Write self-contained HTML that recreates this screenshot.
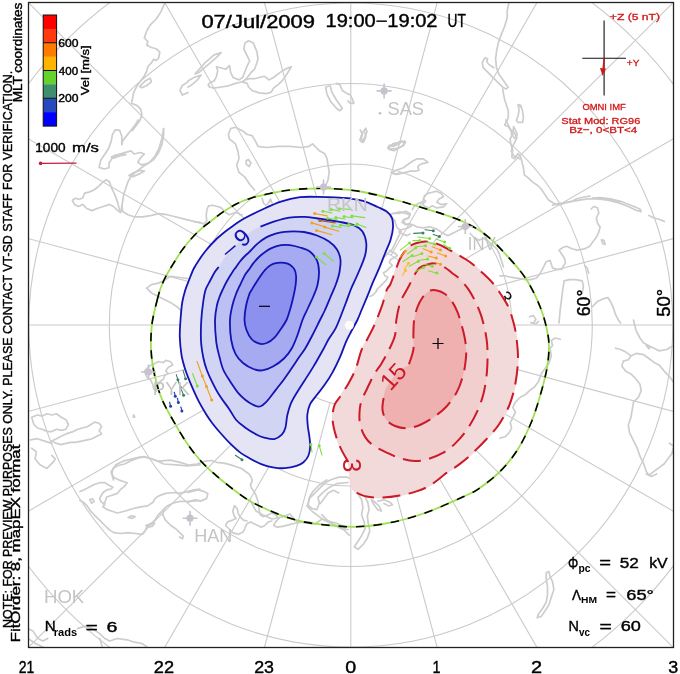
<!DOCTYPE html>
<html><head><meta charset="utf-8"><title>SuperDARN convection map</title>
<style>html,body{margin:0;padding:0;background:#fff;width:680px;height:674px;overflow:hidden}svg{display:block}</style>
</head><body>
<svg width="680" height="674" viewBox="0 0 680 674">
<defs><clipPath id="fr"><rect x="28.5" y="2.5" width="645.0" height="645.0"/></clipPath></defs>
<rect width="680" height="674" fill="#fff"/>
<g clip-path="url(#fr)" fill="none" stroke="#cacaca" stroke-width="1.1">
<circle cx="350.8" cy="325.0" r="80.5"/>
<circle cx="350.8" cy="325.0" r="161.0"/>
<circle cx="350.8" cy="325.0" r="241.5"/>
<circle cx="350.8" cy="325.0" r="322.0"/>
<circle cx="350.8" cy="325.0" r="402.5"/>
<line x1="350.8" y1="405.5" x2="350.8" y2="925.0"/>
<line x1="371.6" y1="402.8" x2="506.1" y2="904.6"/>
<line x1="391.1" y1="394.7" x2="650.8" y2="844.6"/>
<line x1="407.7" y1="381.9" x2="775.1" y2="749.3"/>
<line x1="420.5" y1="365.2" x2="870.4" y2="625.0"/>
<line x1="428.6" y1="345.8" x2="930.4" y2="480.3"/>
<line x1="431.3" y1="325.0" x2="950.8" y2="325.0"/>
<line x1="428.6" y1="304.2" x2="930.4" y2="169.7"/>
<line x1="420.5" y1="284.8" x2="870.4" y2="25.0"/>
<line x1="407.7" y1="268.1" x2="775.1" y2="-99.3"/>
<line x1="391.1" y1="255.3" x2="650.8" y2="-194.6"/>
<line x1="371.6" y1="247.2" x2="506.1" y2="-254.6"/>
<line x1="350.8" y1="244.5" x2="350.8" y2="-275.0"/>
<line x1="330.0" y1="247.2" x2="195.5" y2="-254.6"/>
<line x1="310.6" y1="255.3" x2="50.8" y2="-194.6"/>
<line x1="293.9" y1="268.1" x2="-73.5" y2="-99.3"/>
<line x1="281.1" y1="284.7" x2="-168.8" y2="25.0"/>
<line x1="273.0" y1="304.2" x2="-228.8" y2="169.7"/>
<line x1="270.3" y1="325.0" x2="-249.2" y2="325.0"/>
<line x1="273.0" y1="345.8" x2="-228.8" y2="480.3"/>
<line x1="281.1" y1="365.2" x2="-168.8" y2="625.0"/>
<line x1="293.9" y1="381.9" x2="-73.5" y2="749.3"/>
<line x1="310.5" y1="394.7" x2="50.8" y2="844.6"/>
<line x1="330.0" y1="402.8" x2="195.5" y2="904.6"/>
</g>
<g clip-path="url(#fr)" fill="none" stroke="#cdcdcd" stroke-width="1.7" stroke-linejoin="round" stroke-linecap="round">
<path d="M164.5,3.6 L160.9,11.9 L156.2,19.0 L150.3,24.9 L146.7,30.9 L144.3,38.0 L147.9,41.5 L146.7,45.1 L151.4,47.5 L156.2,48.7 L159.8,52.2 L158.6,58.2 L156.2,60.5 L153.8,59.3 L151.4,62.9 L147.9,66.5 L146.7,71.2 L144.3,76.0 L140.8,80.7 L137.2,85.5 L133.6,92.6 L132.5,98.5 L131.3,103.3 L137.2,105.6 L140.8,109.2 L141.9,115.1 L139.6,121.1 L136.0,125.8 L132.5,130.6"/>
<path d="M139.6,86.6 L145.5,80.7 L150.3,78.3 L151.4,81.9 L146.7,85.5 L141.9,87.8 L139.6,86.6"/>
<path d="M188.0,81.9 L182.3,85.5 L179.9,90.2 L182.3,95.0 L188.0,92.6"/>
<path d="M188.0,81.0 L193.9,77.5 L201.1,75.1 L197.5,79.9 L190.4,85.8 L188.0,87.0"/>
<path d="M195.1,73.9 L204.6,63.2 L214.1,54.9 L221.2,52.6 L216.5,57.3 L207.0,65.6 L198.7,72.7 L195.1,73.9"/>
<path d="M208.2,84.6 L210.6,82.2 L214.1,81.0 L216.5,76.3 L217.7,70.4 L216.5,66.8 L221.2,68.0 L226.0,69.2 L229.5,65.6 L230.7,72.7 L233.1,77.5 L239.0,79.9 L242.6,77.5 L245.0,71.5 L247.3,65.6 L249.7,60.9 L247.3,56.1 L243.8,49.0 L245.0,43.1 L248.5,40.7 L253.3,43.1 L256.8,51.4 L258.0,58.5 L256.8,63.2 L254.5,69.2 L250.9,72.7 L247.3,77.5 L243.8,81.0 L240.2,82.2 L235.5,83.4 L228.4,85.8 L221.2,87.0 L214.1,88.2 L209.4,87.0 L208.2,84.6"/>
<path d="M242.6,82.2 L247.3,83.4 L248.5,87.0 L252.1,90.5 L259.2,92.9 L266.3,93.6 L271.1,92.2 L273.5,88.2 L278.2,84.6 L283.0,79.9 L287.7,72.7 L291.3,66.8 L287.7,68.0 L283.0,70.4 L278.2,73.9 L273.5,77.5 L268.7,79.9 L266.3,77.5 L264.0,76.3 L259.2,77.5 L254.5,78.7 L249.7,78.7 L245.0,79.9 L242.6,82.2"/>
<path d="M325.7,87.0 L330.4,85.8 L331.6,91.7 L336.4,100.0 L342.3,108.3 L339.9,110.7 L336.4,108.3 L330.4,101.2 L326.9,94.1 L325.7,87.0"/>
<path d="M336.4,83.4 L339.9,84.6 L342.3,90.5 L348.0,94.1"/>
<path d="M254.5,190.0 L249.7,184.3 L245.0,177.2 L239.0,172.4 L236.7,165.3 L239.0,158.2 L237.9,151.1 L235.5,143.9 L229.5,139.2 L228.4,134.5 L230.7,128.5 L235.5,127.3 L242.6,130.9 L247.3,134.5 L252.1,135.6 L255.7,141.6 L258.0,146.3 L266.3,147.5 L278.2,146.3 L290.1,146.3 L301.9,147.5 L309.1,146.3 L312.6,143.9 L316.2,147.5 L319.8,151.1 L324.5,153.4 L326.9,158.2 L328.1,165.3 L329.2,172.4 L328.1,179.6 L325.7,185.5"/>
<path d="M246.2,160.6 L248.5,159.4 L250.9,162.9 L249.2,166.5 L246.2,164.1 L246.2,160.6"/>
<path d="M348.0,93.8 L350.4,95.0 L352.7,99.7 L353.9,103.3 L350.4,103.3 L348.0,100.9"/>
<path d="M359.9,140.1 L362.2,132.9 L365.8,128.2 L367.0,131.8 L364.6,137.7 L362.2,142.4 L359.9,140.1"/>
<path d="M388.4,147.2 L393.1,143.6 L399.0,142.4 L405.0,141.2 L402.6,146.0 L397.9,148.4 L394.3,150.7 L389.5,149.6 L388.4,147.2"/>
<path d="M146.7,288.2 L151.4,284.6 L157.4,283.4 L163.3,281.1 L170.4,276.3 L179.9,277.5 L188.0,278.7"/>
<path d="M146.7,288.2 L151.4,292.9 L160.9,297.7 L170.4,302.4 L177.6,307.2 L182.3,311.9"/>
<path d="M144.3,371.0 L149.1,366.3 L153.8,363.9 L158.6,361.5 L163.3,362.7 L165.7,360.4 L170.4,361.5 L172.8,365.1 L168.1,367.5 L165.7,371.0 L168.1,373.4 L164.5,375.8 L163.3,379.3 L159.8,381.7 L157.4,386.5 L156.2,391.2 L153.8,388.8 L152.6,384.1 L150.3,379.3 L146.7,377.0 L144.3,371.0"/>
<path d="M31.6,417.3 L37.5,415.0 L42.2,416.1 L47.0,413.8 L51.7,415.0 L56.5,413.8 L61.2,417.3 L66.0,419.7 L68.4,424.5 L66.0,429.2 L61.2,430.4 L56.5,429.2 L51.7,431.6 L47.0,431.6 L42.2,429.2 L37.5,428.0 L33.9,424.5 L31.6,417.3"/>
<path d="M51.7,441.1 L56.5,438.7 L61.2,436.3 L66.0,433.9 L73.1,431.6 L77.9,429.2 L82.6,428.0 L87.3,426.8 L90.9,424.5 L94.5,422.1 L99.2,423.3 L101.6,426.8 L99.2,430.4 L101.6,433.9 L96.8,436.3 L92.1,438.7 L87.3,439.9 L81.4,441.1 L75.5,442.3 L70.7,442.3 L66.0,443.4 L61.2,444.6 L56.5,443.4 L51.7,441.1"/>
<path d="M30.4,439.9 L37.5,438.7 L44.6,441.1 L51.7,443.4"/>
<path d="M31.6,448.2 L36.3,451.8 L35.1,458.9 L39.9,464.8 L47.0,468.4 L52.9,462.4 L55.3,458.9 L51.7,455.3"/>
<path d="M113.5,480.0 L111.1,471.9 L115.8,464.8 L123.0,461.2 L132.5,458.9 L139.6,457.2 L144.3,456.5 L151.4,458.9 L158.6,461.2 L170.4,460.1 L179.9,462.4 L188.0,464.8"/>
<path d="M133.6,415.0 L134.8,416.9 L133.2,417.3 L133.6,415.0"/>
<path d="M28.0,628.6 L33.0,631.1 L37.9,638.5 L42.9,641.0 L47.8,638.5"/>
<path d="M77.5,628.6 L85.0,626.1 L92.4,628.6 L99.8,633.6 L104.8,638.5 L109.7,641.0 L117.2,638.5 L127.1,639.8 L134.5,642.2 L141.9,643.5 L146.9,646.9"/>
<path d="M28.0,638.5 L35.4,643.5 L42.9,646.9"/>
<path d="M99.8,638.5 L102.3,646.9"/>
<path d="M188.0,492.4 L193.0,491.1 L197.9,489.9 L202.9,491.1 L207.8,493.6 L206.6,498.6 L200.4,501.1 L195.4,499.8 L190.5,501.1 L188.0,502.3"/>
<path d="M326.7,480.0 L319.3,485.0 L313.1,491.1 L309.4,497.3 L308.1,504.8 L311.8,508.5 L316.8,509.7 L319.3,503.5 L318.0,497.3 L323.0,492.4 L329.2,487.4 L336.6,483.7 L348.0,482.5"/>
<path d="M321.7,514.7 L326.7,519.6 L334.1,524.6 L341.6,528.3 L348.0,529.5"/>
<path d="M357.9,493.6 L361.6,499.8 L362.9,507.2 L361.6,514.7 L364.1,522.1 L365.3,528.3 L361.6,535.7 L356.7,543.2 L354.2,546.9 L357.9,549.3 L362.9,544.9 L367.3,538.2 L369.8,530.8 L368.3,523.3 L367.3,515.9 L369.1,509.7 L367.8,502.3 L365.3,497.3"/>
<path d="M371.5,499.8 L374.0,504.8 L377.7,509.7 L381.4,511.0 L379.0,506.0 L375.2,502.3 L371.5,499.8"/>
<path d="M377.7,501.1 L383.9,499.8 L390.1,502.3 L392.6,504.8 L388.9,506.0 L383.9,503.5"/>
<path d="M560.3,339.3 L555.2,338.0 L551.3,340.5 L552.6,345.7 L550.1,348.2 L551.3,355.9 L548.8,363.6 L544.9,368.8 L541.1,373.9 L538.5,381.6 L534.7,386.7 L529.5,390.6 L525.7,394.4 L520.5,397.0 L515.4,402.1 L512.8,407.3 L515.4,412.4 L512.8,417.5 L510.3,422.7 L511.6,427.8 L509.0,432.9 L505.1,436.8 L500.0,438.1"/>
<path d="M615.5,348.2 L620.6,349.5 L625.8,352.1 L630.9,355.9 L628.3,359.8 L623.2,361.1 L621.9,366.2 L625.8,371.3 L630.9,373.9 L636.0,379.0 L639.9,384.2 L641.2,390.6 L638.6,397.0 L633.5,402.1 L632.2,409.8 L630.9,417.5 L628.3,425.2 L629.6,432.9 L633.5,440.6 L637.3,448.3 L639.9,456.0 L643.7,463.7 L646.3,471.4 L648.9,475.3 L654.0,471.4 L659.1,467.6 L664.3,463.7 L668.1,458.6 L672.0,453.5 L673.0,448.3"/>
<path d="M630.9,355.9 L636.0,353.4 L643.7,354.7 L648.9,358.5 L654.0,362.4 L659.1,364.9 L664.3,371.3 L669.4,376.5 L673.0,381.6"/>
<path d="M633.5,320.0 L636.0,330.3 L639.9,338.0 L643.7,343.1 L648.9,345.7 L654.0,348.2 L659.1,350.8 L666.8,349.5 L673.0,345.7"/>
<path d="M646.3,345.7 L650.2,347.0 L648.9,348.7 L646.3,345.7"/>
<path d="M530.8,322.6 L535.9,323.9 L538.5,321.3"/>
<path d="M669.4,443.2 L673.0,445.8"/>
<path d="M546.2,572.8 L548.8,571.5 L550.1,576.7 L552.6,581.8 L553.9,589.5 L551.3,597.2 L548.8,604.9 L544.9,611.3 L541.1,616.5 L537.2,617.7 L538.5,613.9 L542.4,608.8 L546.2,602.3 L547.5,594.6 L547.5,586.9 L546.2,579.2 L546.2,572.8"/>
<path d="M646.3,474.0 L651.4,476.6 L656.6,474.0"/>
<path d="M552.6,205.2 L557.8,203.9 L564.2,202.6 L571.9,201.3 L579.6,200.1 L587.3,198.8 L597.5,198.8 L607.8,200.1 L618.1,202.6 L628.3,206.5 L636.0,210.3 L641.2,211.6 L639.9,209.0 L630.9,205.2 L620.6,201.3 L610.4,198.8 L600.1,197.5 L592.4,198.0"/>
<path d="M591.1,209.0 L593.7,206.5 L597.5,207.8 L598.8,212.9 L596.3,218.0 L597.5,223.2 L600.1,227.0 L598.8,232.1 L596.3,237.3 L592.4,242.4 L589.8,246.3 L584.7,248.8 L577.0,250.1 L571.9,248.8 L566.7,246.3 L562.9,247.5 L559.0,250.1 L561.6,254.0 L564.2,257.8 L565.5,262.9 L562.9,266.8 L561.6,269.4 L557.8,269.4 L552.6,268.1 L551.3,264.2 L550.1,260.4 L546.2,261.7 L543.6,266.8 L541.1,271.9 L538.5,275.8 L535.9,278.3 L530.8,279.6 L525.7,279.6 L518.0,278.3 L510.3,277.1 L505.1,275.8 L500.0,275.8"/>
<path d="M601.4,239.8 L604.0,240.4 L605.2,244.5 L602.7,243.7 L601.4,239.8"/>
<path d="M648.9,215.5 L654.0,218.0 L659.1,219.3 L664.3,221.4"/>
<path d="M559.0,323.0 L560.3,309.1 L561.6,298.9 L562.9,288.6 L564.2,280.9 L569.3,279.6 L575.7,279.6 L582.1,280.9 L583.4,286.0 L582.1,293.7"/>
<path d="M584.7,265.5 L587.3,268.1 L588.6,273.2"/>
<path d="M592.4,306.6 L597.5,301.4 L602.7,298.9 L607.8,297.6 L610.4,301.4 L612.9,306.6 L615.5,314.3 L618.1,319.4 L620.6,323.0"/>
<path d="M529.5,316.8 L533.4,315.6 L535.9,319.4 L533.4,323.0"/>
<path d="M387.8,147.8 L392.3,145.6 L396.7,143.4 L401.2,141.1 L405.6,142.3 L403.4,145.6 L398.9,147.8 L394.5,148.9 L388.9,148.9 L387.8,147.8"/>
<path d="M392.3,172.3 L396.7,170.1 L403.4,167.8 L407.8,164.5 L412.3,161.2 L416.7,158.9 L423.4,158.9 L427.9,162.3 L423.4,163.4 L420.1,164.5 L417.8,166.7 L419.0,170.1 L415.6,171.2 L410.1,171.2 L405.6,172.3 L401.2,173.4 L396.7,174.5 L392.3,173.4"/>
<path d="M424.5,195.7 L427.9,193.4 L432.3,192.3 L436.8,191.2 L441.2,193.4 L443.4,196.8 L439.0,199.0 L436.8,202.3 L441.2,204.6 L446.8,203.5 L443.4,206.8 L436.8,207.9 L432.3,205.7 L429.0,207.9 L425.6,206.8 L422.3,204.6 L425.6,201.2 L423.4,199.0 L424.5,195.7"/>
<path d="M392.3,213.5 L398.9,213.5 L405.6,211.2 L410.1,213.5 L408.9,217.9 L403.4,220.1 L405.6,224.6 L412.3,224.6 L416.7,226.8 L423.4,227.9 L430.1,226.8 L436.8,229.1 L443.4,233.5 L447.9,235.7 L452.3,233.5 L456.8,231.3 L461.2,229.1 L463.5,224.6"/>
<path d="M392.3,213.5 L390.0,215.7 L394.5,220.1 L396.7,226.8 L401.2,231.3 L398.9,235.7 L396.7,240.2 L394.5,244.6 L392.3,249.1 L387.8,253.5 L383.4,258.0"/>
<path d="M505.8,120.0 L508.0,124.5 L510.2,128.9 L514.7,133.4 L516.9,137.8 L514.7,142.3 L512.4,146.7 L511.3,151.2 L513.5,155.6 L518.0,157.8 L520.0,158.9"/>
<path d="M470.1,233.5 L474.6,238.0 L479.1,240.2 L483.5,238.0 L488.0,241.3 L492.4,244.6 L496.9,249.1 L499.1,253.5 L501.3,260.2 L503.5,266.9"/>
<path d="M360.3,130.0 L362.5,134.4 L361.4,138.8 L363.6,142.1 L365.8,136.6 L364.7,132.2"/>
<path d="M389.0,145.4 L393.4,146.5 L400.0,143.2"/>
<path d="M391.2,171.9 L395.6,174.1 L400.0,173.0"/>
<path d="M307.1,506.2 L309.7,498.2 L315.0,492.9 L320.3,487.6 L325.6,482.4 L330.9,479.7 L338.8,477.1 L346.8,477.1 L352.1,479.7"/>
<path d="M307.1,506.2 L312.4,511.5 L317.6,515.4 L322.9,519.4 L328.2,522.1 L333.5,524.7 L338.8,527.4 L344.1,530.0 L349.4,535.3"/>
<path d="M320.3,503.5 L324.3,498.2 L328.2,492.9 L333.5,490.3 L338.8,492.9"/>
<path d="M393.7,213.4 L399.7,211.9 L405.6,213.4 L410.1,214.8 L408.6,217.8 L404.1,219.3 L401.9,222.3 L405.6,224.5 L410.1,223.7 L411.5,226.0 L407.1,228.2 L401.2,229.7 L398.9,231.9 L402.6,234.1 L407.1,235.6 L410.1,234.1"/>
<path d="M389.3,250.4 L392.3,251.9 L395.2,253.4 L397.4,255.6 L393.7,257.9 L390.8,259.3 L389.3,262.3 L392.3,265.3 L389.3,268.2 L386.3,271.2 L383.4,272.7 L384.8,275.7 L387.8,277.2 L386.3,280.1 L383.4,283.1 L380.4,286.1 L377.4,289.0 L375.9,292.0 L373.0,295.0 L370.0,296.4"/>
<path d="M412.3,209.6 L414.5,205.9 L419.0,203.0 L423.4,201.5"/>
<path d="M509.0,2.7 L507.2,10.7 L507.2,17.8 L504.5,26.7 L500.9,35.6 L498.3,42.7 L496.5,51.6 L495.6,58.8 L496.5,67.7 L499.2,74.8 L501.8,78.3 L504.5,81.9 L508.1,87.2 L506.3,89.0 L502.7,87.2 L497.4,81.9 L492.0,76.6 L486.7,71.2 L483.1,67.7 L482.3,62.3 L484.9,57.9 L487.6,58.8 L486.7,61.4 L488.5,64.1 L493.8,67.7"/>
<path d="M502.7,89.0 L503.6,94.4 L504.7,100.0 L506.5,105.3 L508.3,110.7 L508.3,117.8 L505.6,123.1 L504.7,124.9 L508.3,126.7 L510.9,130.3 L511.8,135.6 L510.1,139.2 L510.9,144.5 L512.7,149.8 L511.8,157.0 L514.5,158.8 L518.1,153.4 L520.7,157.0 L521.6,160.5 L523.4,167.7 L524.3,174.8 L528.8,178.3 L532.3,181.9 L537.7,185.5 L541.2,189.0 L544.8,194.4 L548.3,199.7 L553.7,203.3 L559.0,205.0 L564.4,203.3 L571.5,201.5 L576.8,198.8 L583.9,197.0 L590.0,196.1"/>
<path d="M518.1,104.5 L520.7,105.3 L522.5,110.7 L523.4,117.8 L522.5,122.3 L518.1,122.3 L516.3,120.5 L518.1,116.0 L519.0,110.7 L518.1,104.5"/>
<path d="M513.6,126.7 L515.4,130.3 L517.2,133.8 L516.3,137.4 L514.5,138.3 L512.7,135.6 L513.6,126.7"/>
<path d="M518.7,105.0 L520.5,106.8"/>
<path d="M200.0,464.9 L186.8,465.8 L176.1,464.9 L163.7,464.0 L158.3,461.4 L151.2,458.7 L144.1,456.9 L138.8,457.8 L131.6,460.5 L124.5,464.0 L117.4,465.8 L112.9,468.5 L112.0,473.8 L113.8,477.4 L119.2,480.1 L127.2,482.7 L124.5,486.3 L120.1,489.9 L117.4,493.4 L112.0,495.2 L106.7,497.0 L104.9,502.3 L103.1,506.8 L106.7,509.4 L112.0,511.2 L117.4,513.0 L124.5,511.2 L133.4,508.5 L140.5,506.8 L147.7,505.9 L153.0,502.3 L154.8,498.8 L158.3,496.1 L165.5,493.4 L174.4,492.5 L179.7,493.4 L186.8,491.6 L193.9,489.9 L200.0,489.0"/>
<path d="M200.0,500.5 L190.4,501.4 L179.7,501.4 L172.6,503.2 L167.2,505.9 L163.7,509.4 L162.8,514.8 L165.5,520.1 L170.8,525.5 L176.1,529.0 L179.7,532.6 L183.3,536.1 L182.4,538.8 L179.7,537.0"/>
<path d="M163.7,509.4 L158.3,514.8 L154.8,520.1 L151.2,523.7 L147.7,525.5 L145.9,529.0 L144.1,532.6 L142.3,534.4 L135.2,533.5 L128.1,532.6 L120.9,533.5 L113.8,532.6 L109.4,529.9 L104.9,525.5 L99.6,520.1 L94.2,514.8 L90.7,511.2 L87.1,505.9 L83.6,502.3 L80.0,500.5"/>
<path d="M80.0,491.6 L83.6,489.9 L88.9,487.2 L94.2,484.5 L99.6,482.7 L104.9,482.7 L109.4,485.4 L112.9,487.2 L111.2,489.0 L106.7,489.9 L103.1,492.5 L101.4,495.2 L99.6,498.8 L101.4,502.3 L104.9,504.1 L103.1,506.8"/>
<path d="M128.1,517.4 L131.6,515.7 L135.2,516.6 L132.5,518.3 L128.1,517.4"/>
<path d="M89.8,499.6 L92.5,498.8 L94.2,501.4 L91.6,503.2 L89.8,499.6"/>
<path d="M145.9,525.5 L150.3,523.7 L154.8,523.3 L152.1,526.4 L147.7,527.2"/>
<path d="M190.0,464.9 L197.1,464.0 L204.2,461.4 L211.4,460.5 L216.7,462.3 L223.8,463.1 L230.9,464.9 L236.3,466.7 L241.6,468.5 L245.2,471.2 L248.8,473.8 L251.4,477.4 L252.3,480.9 L250.5,484.5 L251.4,488.1 L254.1,491.6 L255.9,495.2 L257.7,500.5 L258.5,505.9 L259.4,511.2 L260.3,514.8 L263.0,516.6 L268.3,514.8 L271.9,513.0 L275.5,514.8 L279.0,518.3 L275.5,521.9 L273.7,525.5 L277.2,527.2 L282.6,526.3 L289.7,524.6 L296.8,522.8 L303.9,521.9 L310.0,521.9"/>
<path d="M234.5,505.9 L232.7,511.2 L234.5,516.6 L236.3,518.3 L232.7,520.1 L227.4,521.9 L225.6,525.5 L229.2,529.0 L232.7,532.6 L238.1,534.4 L243.4,531.7 L245.2,527.2 L247.0,523.7 L250.5,521.9 L254.1,523.7 L257.7,525.5 L261.2,527.2 L264.8,525.5 L268.3,521.9 L271.9,521.0"/>
<path d="M234.5,505.9 L237.2,508.5 L238.1,513.0 L239.8,516.6 L243.4,520.1 L247.0,521.0"/>
<path d="M138.2,120.0 L135.1,125.1 L131.0,130.3 L126.9,135.4 L122.8,140.6 L121.8,144.7 L121.8,136.5 L119.7,130.3 L115.2,129.9 L112.5,134.4 L111.1,141.6 L108.4,148.8 L104.3,155.0 L100.8,160.1 L99.1,167.4 L104.3,169.0 L109.0,167.8 L109.0,163.2 L111.5,159.1 L116.6,155.4 L123.8,152.9 L131.0,150.9 L134.1,154.0 L140.3,152.5 L144.4,154.0 L140.3,158.1 L137.8,162.2 L141.3,164.9 L147.5,163.6 L153.7,159.5 L158.4,152.9 L161.9,144.7 L163.6,135.4 L163.6,128.6"/>
<path d="M163.6,128.6 L161.9,138.5 L159.2,147.8 L155.1,156.0 L149.6,162.2 L143.4,166.3 L139.3,169.4 L135.1,172.5 L131.0,176.6 L127.9,181.8 L125.9,187.9 L123.8,194.1 L122.8,200.3 L121.8,206.5 L122.8,211.6 L127.9,214.7 L134.1,216.8 L142.4,216.8 L150.6,215.7 L158.8,213.7 L167.1,214.7 L175.3,216.8 L183.5,218.8 L191.8,220.9 L200.0,222.9"/>
<path d="M109.4,181.8 L106.3,179.7 L103.2,181.8 L99.1,185.9 L94.0,190.0 L88.8,192.1 L84.7,193.1 L82.6,198.2 L78.5,199.3 L75.4,198.2 L72.4,200.3 L74.4,204.4 L78.5,206.5 L82.6,204.4 L86.8,208.5 L91.9,210.6 L97.1,208.5 L103.2,206.5 L109.4,204.4 L113.5,206.5 L117.6,210.6 L120.7,212.6 L121.8,206.5"/>
<path d="M109.4,181.8 L111.5,187.9 L114.6,194.1 L117.6,202.4 L119.7,210.6"/>
<path d="M111.5,157.1 L115.6,155.0 L121.8,154.0 L125.9,154.6 L119.7,156.0 L113.5,158.1 L111.5,157.1"/>
<path d="M129.0,175.6 L134.1,172.5 L140.3,170.4 L144.4,171.1 L139.3,173.9 L133.1,176.6 L129.0,175.6"/>
<path d="M195.0,221.8 L199.7,222.4 L204.4,224.1 L206.8,220.6 L206.2,215.9 L206.8,210.0 L208.5,205.9 L212.6,205.3 L217.4,206.5 L220.9,207.6 L223.2,210.0 L225.6,212.4 L229.1,214.7 L232.6,213.5 L236.2,212.4 L238.5,213.5 L240.9,215.3 L242.1,214.7"/>
<path d="M262.0,198.0 L263.5,203.0 L266.0,205.5 L268.5,203.0 L270.5,199.0 L272.5,204.0"/>
<path d="M250.0,500.0 L256.0,511.0 L263.0,515.0 L272.0,519.0 L282.0,517.0 L290.0,514.0 L296.0,521.0 L305.0,523.0 L315.0,524.0 L322.0,519.0 L328.0,521.0 L336.0,523.0 L345.0,527.0"/>
</g>
<text x="0" y="0" font-family="Liberation Sans, sans-serif" font-size="19" fill="#111" transform="translate(505,297) rotate(62)" text-anchor="middle" dominant-baseline="central">3</text>
<path d="M420.8,241.9C423.8,241.4 426.7,241.5 429.7,241.9C432.7,242.3 435.6,243.2 438.6,244.4C441.6,245.6 444.5,247.3 447.5,248.9C450.5,250.5 452.7,251.6 456.4,253.8C460.1,256.0 465.5,258.9 469.8,262.0C474.1,265.1 478.4,269.1 482.3,272.7C486.2,276.3 489.7,279.5 493.0,283.4C496.3,287.3 499.2,291.8 501.9,295.9C504.6,300.0 507.1,303.9 509.0,308.3C510.9,312.8 512.2,317.7 513.5,322.6C514.8,327.6 515.8,331.8 516.5,338.0C517.2,344.2 518.2,352.1 518.0,360.0C517.8,367.9 516.5,377.9 515.0,385.7C513.5,393.4 511.6,399.9 508.8,406.5C506.0,413.1 502.2,419.7 498.4,425.2C494.6,430.7 490.4,434.9 485.9,439.7C481.4,444.5 475.9,450.0 471.4,454.2C466.9,458.4 463.0,461.5 458.9,464.6C454.8,467.7 450.1,470.2 446.5,472.9C442.9,475.5 439.9,478.3 437.0,480.5C434.1,482.7 432.2,484.4 428.8,486.2C425.4,488.0 421.2,489.8 416.3,491.4C411.4,493.0 405.2,494.6 399.7,495.6C394.2,496.6 388.6,497.4 383.1,497.6C377.6,497.8 371.0,497.5 366.5,496.6C362.0,495.8 358.6,494.4 356.0,492.5C353.4,490.6 352.0,488.1 351.0,485.0C350.0,481.9 350.2,477.8 349.8,474.0C349.4,470.2 349.7,466.0 348.3,462.0C346.9,458.0 343.5,454.0 341.5,449.9C339.5,445.8 337.9,442.2 336.4,437.4C334.9,432.5 333.1,426.0 332.7,420.8C332.3,415.6 332.9,410.1 334.2,406.0C335.4,401.9 337.8,400.3 340.2,396.5C342.6,392.7 345.9,387.9 348.5,383.4C351.1,378.8 353.4,374.7 355.6,369.2C357.8,363.7 359.5,355.2 361.5,350.2C363.5,345.2 365.2,343.4 367.4,339.0C369.6,334.6 372.3,329.8 374.8,324.1C377.3,318.4 380.3,310.5 382.3,304.8C384.3,299.1 385.4,293.4 386.7,290.0C388.0,286.6 389.0,287.1 390.4,284.2C391.8,281.2 393.4,276.3 394.9,272.3C396.4,268.3 397.7,263.9 399.3,260.4C400.9,256.9 402.4,254.1 404.5,251.5C406.6,248.9 409.2,246.5 411.9,244.9C414.6,243.3 417.8,242.4 420.8,241.9Z" fill="#f3dada" stroke="#f3dada" stroke-width="1.5"/>
<path d="M419.3,267.9C421.7,265.8 424.7,265.1 427.5,264.4C430.3,263.7 433.1,263.0 436.0,263.5C438.9,264.0 442.3,265.9 445.0,267.5C447.7,269.1 449.6,271.2 452.0,273.0C454.4,274.8 456.5,275.9 459.2,278.5C461.9,281.1 465.4,285.0 468.1,288.8C470.8,292.6 473.1,297.1 475.2,301.2C477.3,305.3 479.0,309.5 480.5,313.7C482.0,317.9 483.1,322.0 484.1,326.1C485.1,330.2 485.9,334.6 486.5,338.6C487.1,342.7 487.4,345.0 487.5,350.4C487.6,355.8 487.6,364.3 487.0,371.2C486.4,378.1 485.5,385.3 483.9,391.9C482.3,398.5 480.4,404.4 477.6,410.6C474.8,416.8 471.0,423.8 467.2,429.3C463.4,434.9 458.9,439.9 454.8,443.9C450.7,447.9 446.7,450.7 442.3,453.2C437.9,455.7 432.9,457.7 428.3,459.0C423.8,460.3 419.7,461.1 415.0,461.0C410.3,460.9 405.0,459.7 400.3,458.3C395.6,456.9 391.1,454.7 386.7,452.6C382.3,450.6 377.6,448.5 374.0,446.0C370.4,443.5 367.7,440.9 365.4,437.4C363.1,433.9 361.2,429.0 360.2,424.9C359.2,420.8 359.3,416.5 359.5,412.5C359.7,408.5 360.1,405.1 361.4,401.0C362.7,396.9 365.2,392.6 367.4,388.0C369.6,383.4 372.3,377.5 374.6,373.5C376.9,369.5 378.9,367.9 381.2,364.0C383.5,360.1 386.4,355.1 388.7,350.4C391.0,345.7 393.6,340.9 394.9,335.8C396.2,330.7 395.5,325.2 396.4,319.7C397.2,314.2 398.6,307.4 400.0,303.0C401.4,298.6 403.5,295.9 405.0,293.0C406.5,290.1 407.6,288.4 409.0,285.7C410.4,283.0 411.7,279.8 413.4,276.8C415.1,273.8 416.9,270.0 419.3,267.9Z" fill="#f2cfcf"/>
<path d="M429.0,291.0C431.4,289.8 434.3,290.0 437.0,290.5C439.7,291.0 442.5,292.2 445.0,294.0C447.5,295.8 449.9,298.5 452.0,301.5C454.1,304.5 455.9,308.4 457.4,311.9C458.9,315.4 459.7,318.5 460.9,322.6C462.1,326.8 463.6,332.2 464.5,336.8C465.4,341.4 466.0,345.8 466.2,350.0C466.4,354.2 466.0,357.8 465.5,362.0C465.0,366.2 464.5,370.3 463.1,375.3C461.7,380.3 459.7,386.7 456.9,391.9C454.1,397.1 450.3,402.3 446.5,406.5C442.7,410.7 438.2,413.9 434.0,416.9C429.8,419.9 425.4,422.6 421.0,424.5C416.6,426.4 411.8,427.9 407.5,428.2C403.2,428.4 398.6,427.4 395.0,426.0C391.4,424.6 388.1,422.2 386.0,419.5C383.9,416.8 383.0,413.1 382.5,410.0C382.0,406.9 382.7,404.3 383.1,401.0C383.6,397.7 383.9,393.3 385.2,390.0C386.5,386.7 389.0,383.8 391.0,381.0C393.0,378.2 395.0,375.2 397.0,373.0C399.0,370.8 401.0,369.5 403.0,368.0C405.0,366.5 407.3,367.3 409.0,364.2C410.7,361.1 412.7,354.2 413.4,349.3C414.1,344.4 413.3,339.4 413.4,334.5C413.5,329.6 413.5,324.3 414.2,319.7C414.9,315.1 416.1,310.7 417.5,307.0C418.9,303.3 420.6,300.2 422.5,297.5C424.4,294.8 426.6,292.2 429.0,291.0Z" fill="#efb0b0"/>
<path d="M180.5,320.0C180.9,314.2 181.5,307.0 182.3,302.0C183.1,297.0 184.2,293.7 185.3,290.0C186.4,286.3 187.7,283.6 189.1,280.0C190.5,276.4 192.0,272.0 193.8,268.5C195.6,265.0 197.7,262.0 199.7,259.0C201.7,256.0 203.1,253.9 205.7,250.7C208.3,247.5 212.1,243.3 215.5,240.0C218.9,236.7 222.8,233.6 226.0,231.0C229.2,228.4 232.0,226.6 235.0,224.5C238.0,222.4 239.6,221.0 244.1,218.5C248.6,216.0 255.7,212.5 261.8,209.7C267.9,206.9 274.5,203.7 280.9,201.6C287.3,199.5 293.6,198.0 300.0,197.2C306.4,196.4 313.2,196.8 319.0,196.9C324.8,197.0 329.8,197.2 335.0,197.5C340.2,197.8 345.3,197.9 350.0,198.5C354.7,199.1 358.5,199.4 363.1,200.8C367.7,202.2 373.7,205.2 377.6,207.0C381.5,208.8 384.3,209.7 386.7,211.5C389.1,213.3 390.8,215.1 391.9,217.8C392.9,220.5 393.2,224.1 393.0,227.8C392.8,231.5 391.8,235.8 390.5,240.0C389.2,244.2 387.1,248.3 385.2,253.0C383.3,257.6 381.3,263.2 379.3,267.9C377.3,272.6 375.4,276.5 373.4,281.2C371.4,285.9 369.3,291.5 367.4,296.1C365.5,300.7 363.7,305.0 362.0,309.0C360.3,313.0 359.2,316.2 357.4,320.0C355.6,323.8 353.1,327.9 351.2,331.5C349.3,335.1 347.9,337.6 346.0,341.9C344.1,346.2 342.3,352.0 340.0,357.1C337.7,362.2 335.0,367.9 332.4,372.6C329.8,377.4 326.9,381.7 324.1,385.6C321.3,389.6 318.2,393.1 315.8,396.3C313.4,399.5 311.3,401.5 309.9,404.6C308.5,407.7 307.6,411.4 307.3,415.0C307.0,418.6 307.5,422.5 307.8,426.0C308.1,429.5 308.9,432.7 309.3,436.0C309.7,439.3 310.3,442.8 310.2,446.0C310.1,449.2 309.6,452.8 308.5,455.5C307.4,458.2 305.5,460.5 303.5,462.2C301.5,463.9 299.6,464.9 296.5,465.9C293.4,466.9 288.6,467.9 284.7,468.2C280.8,468.4 276.8,468.1 272.9,467.4C269.0,466.7 265.1,465.6 261.2,464.1C257.3,462.6 253.1,460.3 249.4,458.2C245.7,456.1 242.5,454.3 239.1,451.6C235.7,448.9 232.0,445.3 228.8,442.1C225.6,438.9 222.7,435.6 220.0,432.5C217.3,429.4 214.8,426.5 212.5,423.5C210.2,420.5 208.6,418.3 206.3,414.5C204.0,410.7 201.0,405.8 198.5,400.9C196.0,396.0 193.6,390.5 191.4,385.4C189.2,380.2 187.1,375.1 185.4,370.0C183.8,364.9 182.4,360.5 181.5,355.0C180.6,349.5 180.0,342.8 179.8,337.0C179.6,331.2 180.1,325.8 180.5,320.0Z" fill="#e4e4f4"/>
<path d="M201.3,320.0C201.7,313.5 202.5,307.0 203.2,302.0C203.9,297.0 204.4,293.5 205.5,290.0C206.6,286.5 208.5,283.9 210.0,281.0C211.5,278.1 213.1,274.8 214.5,272.5C215.9,270.2 217.1,269.3 218.7,267.0C220.3,264.7 221.9,261.2 224.0,258.5C226.1,255.8 227.9,253.8 231.0,250.5C234.1,247.2 239.2,241.7 242.5,238.5C245.8,235.3 248.0,233.5 251.0,231.5C254.0,229.5 256.6,228.4 260.5,226.7C264.4,225.0 269.7,222.9 274.5,221.4C279.3,219.9 284.4,218.3 289.3,217.6C294.2,216.8 299.5,216.8 304.2,216.9C308.9,217.1 313.0,217.9 317.5,218.5C322.0,219.1 326.8,219.8 331.0,220.5C335.2,221.2 339.0,221.6 343.0,222.5C347.0,223.4 351.6,224.2 354.8,225.7C358.1,227.2 360.6,228.7 362.5,231.5C364.4,234.3 365.7,238.7 366.2,242.5C366.7,246.3 366.2,250.5 365.3,254.5C364.4,258.5 362.6,262.6 361.0,266.5C359.4,270.4 357.7,274.2 356.0,278.0C354.3,281.8 352.7,284.9 351.0,289.0C349.3,293.1 347.7,298.1 346.0,302.5C344.3,306.9 342.7,311.2 341.0,315.5C339.3,319.8 337.7,324.3 335.6,328.4C333.5,332.4 330.4,336.2 328.3,339.8C326.2,343.4 325.4,345.5 322.9,350.0C320.4,354.5 316.4,361.7 313.4,366.6C310.4,371.6 307.9,375.4 305.1,379.7C302.3,384.0 299.2,388.8 296.8,392.7C294.4,396.6 292.5,399.6 290.9,403.4C289.3,407.2 288.2,411.3 287.3,415.3C286.4,419.3 286.4,424.2 285.5,427.4C284.6,430.6 283.7,432.8 281.8,434.7C279.9,436.6 277.3,438.6 274.4,439.1C271.4,439.6 267.0,438.3 264.1,437.6C261.2,436.9 260.0,436.4 256.8,434.7C253.6,433.0 248.4,429.8 245.0,427.4C241.6,424.9 238.8,423.0 236.2,420.0C233.6,417.0 232.0,413.2 229.3,409.2C226.6,405.2 222.7,400.5 219.9,396.1C217.1,391.8 214.9,387.5 212.7,383.1C210.5,378.8 208.4,374.2 206.8,370.0C205.2,365.8 204.4,362.9 203.4,358.0C202.4,353.1 201.3,347.1 201.0,340.8C200.7,334.5 200.9,326.5 201.3,320.0Z" fill="#d2d4f4"/>
<path d="M215.0,320.0C215.1,313.8 216.2,308.8 217.0,305.0C217.8,301.2 218.6,299.5 219.5,297.0C220.4,294.5 221.2,292.7 222.5,290.0C223.8,287.3 225.3,284.0 227.0,281.0C228.7,278.0 231.0,274.3 232.5,272.0C234.0,269.7 234.7,268.9 236.0,267.1C237.3,265.3 238.7,263.1 240.2,261.2C241.7,259.3 243.4,257.5 244.9,256.0C246.4,254.5 246.8,254.4 248.9,252.3C251.1,250.2 254.8,245.9 257.8,243.4C260.8,240.9 263.7,238.7 266.7,237.1C269.7,235.5 272.6,234.5 275.6,233.6C278.6,232.7 281.5,232.2 284.5,231.8C287.5,231.4 290.1,231.3 293.4,231.3C296.6,231.3 300.1,231.3 304.0,232.0C307.9,232.7 312.8,233.9 317.0,235.5C321.2,237.1 325.7,239.2 329.0,241.5C332.3,243.8 335.1,246.4 337.0,249.5C338.9,252.6 340.1,256.2 340.5,260.0C340.9,263.8 340.2,268.0 339.5,272.0C338.8,276.0 337.5,279.8 336.0,284.0C334.5,288.2 332.3,292.7 330.5,297.0C328.7,301.3 326.8,306.0 325.0,310.0C323.2,314.0 321.6,316.8 319.5,321.0C317.4,325.2 314.8,330.5 312.5,335.0C310.2,339.5 307.7,344.3 305.5,348.0C303.3,351.7 301.4,353.8 299.2,357.1C296.9,360.4 294.6,364.0 292.0,367.8C289.4,371.6 286.5,375.9 283.7,379.7C280.9,383.5 278.2,386.8 275.4,390.4C272.6,393.9 269.7,398.3 267.1,401.0C264.5,403.7 262.4,405.9 260.0,406.5C257.6,407.1 254.9,405.6 252.5,404.5C250.1,403.4 247.8,401.8 245.5,400.0C243.2,398.2 241.3,396.7 238.8,393.7C236.3,390.7 233.1,385.8 230.5,381.9C227.9,377.9 225.2,374.1 223.4,370.0C221.6,365.9 220.7,361.6 219.5,357.0C218.3,352.4 217.1,348.5 216.3,342.3C215.6,336.1 214.9,326.2 215.0,320.0Z" fill="#bcc0f3"/>
<path d="M230.0,320.0C230.2,314.2 231.5,309.3 232.5,305.0C233.5,300.7 234.8,297.2 236.0,294.0C237.2,290.8 238.1,289.1 239.6,286.0C241.1,282.9 243.3,278.0 244.9,275.1C246.5,272.2 247.9,271.0 249.4,268.9C250.9,266.8 252.0,264.8 253.8,262.7C255.6,260.6 257.9,257.9 260.0,256.0C262.1,254.1 264.5,252.4 266.5,251.0C268.5,249.6 269.7,248.8 272.1,247.8C274.5,246.8 278.0,245.6 281.0,245.1C284.0,244.6 286.7,244.7 289.9,245.1C293.1,245.5 296.6,246.4 300.0,247.5C303.4,248.6 307.3,249.6 310.1,251.8C312.9,254.0 315.5,257.2 317.0,260.5C318.5,263.8 318.9,267.4 319.0,271.5C319.1,275.6 318.4,280.9 317.5,285.0C316.6,289.1 315.1,292.2 313.5,296.0C311.9,299.8 309.8,304.0 308.0,308.0C306.2,312.0 304.2,315.5 302.5,320.0C300.8,324.5 299.2,330.3 297.5,335.0C295.8,339.7 294.2,344.1 292.0,348.0C289.8,351.9 287.2,355.4 284.0,358.5C280.8,361.6 276.6,364.5 273.0,366.5C269.4,368.5 265.6,370.0 262.3,370.4C259.0,370.8 256.6,370.2 253.4,369.0C250.2,367.8 246.0,365.5 243.0,363.0C240.0,360.5 237.6,357.9 235.6,354.1C233.6,350.3 232.1,345.7 231.2,340.0C230.3,334.3 229.8,325.8 230.0,320.0Z" fill="#a6aaf1"/>
<path d="M244.5,320.0C244.4,316.0 245.2,310.2 246.0,306.0C246.8,301.8 248.1,297.7 249.0,295.0C249.9,292.3 250.1,292.5 251.6,290.0C253.1,287.5 255.6,283.2 257.8,279.9C260.0,276.6 262.7,272.6 264.9,270.1C267.1,267.6 269.1,265.9 271.2,264.7C273.3,263.5 275.2,263.2 277.4,262.9C279.6,262.6 282.4,262.6 284.5,262.9C286.6,263.2 288.3,263.6 289.9,264.7C291.5,265.8 293.3,267.3 294.3,269.2C295.3,271.1 295.9,273.7 296.1,276.3C296.3,278.9 296.0,281.7 295.6,285.0C295.2,288.3 294.4,292.2 293.5,296.0C292.6,299.8 291.7,304.0 290.5,308.0C289.3,312.0 288.2,316.4 286.5,320.0C284.8,323.6 282.6,326.5 280.5,329.5C278.4,332.5 276.5,335.6 274.2,337.8C271.9,340.1 269.3,342.0 266.8,343.0C264.3,344.0 261.9,344.4 259.3,343.7C256.8,343.0 253.6,341.3 251.5,339.0C249.4,336.7 247.7,333.2 246.5,330.0C245.3,326.8 244.6,324.0 244.5,320.0Z" fill="#8c91ef"/>
<g fill="none" stroke="#1414b4" stroke-width="1.8">
<path d="M180.5,320.0C180.9,314.2 181.5,307.0 182.3,302.0C183.1,297.0 184.2,293.7 185.3,290.0C186.4,286.3 187.7,283.6 189.1,280.0C190.5,276.4 192.0,272.0 193.8,268.5C195.6,265.0 197.7,262.0 199.7,259.0C201.7,256.0 203.1,253.9 205.7,250.7C208.3,247.5 212.1,243.3 215.5,240.0C218.9,236.7 222.8,233.6 226.0,231.0C229.2,228.4 232.0,226.6 235.0,224.5C238.0,222.4 239.6,221.0 244.1,218.5C248.6,216.0 255.7,212.5 261.8,209.7C267.9,206.9 274.5,203.7 280.9,201.6C287.3,199.5 293.6,198.0 300.0,197.2C306.4,196.4 313.2,196.8 319.0,196.9C324.8,197.0 329.8,197.2 335.0,197.5C340.2,197.8 345.3,197.9 350.0,198.5C354.7,199.1 358.5,199.4 363.1,200.8C367.7,202.2 373.7,205.2 377.6,207.0C381.5,208.8 384.3,209.7 386.7,211.5C389.1,213.3 390.8,215.1 391.9,217.8C392.9,220.5 393.2,224.1 393.0,227.8C392.8,231.5 391.8,235.8 390.5,240.0C389.2,244.2 387.1,248.3 385.2,253.0C383.3,257.6 381.3,263.2 379.3,267.9C377.3,272.6 375.4,276.5 373.4,281.2C371.4,285.9 369.3,291.5 367.4,296.1C365.5,300.7 363.7,305.0 362.0,309.0C360.3,313.0 359.2,316.2 357.4,320.0C355.6,323.8 353.1,327.9 351.2,331.5C349.3,335.1 347.9,337.6 346.0,341.9C344.1,346.2 342.3,352.0 340.0,357.1C337.7,362.2 335.0,367.9 332.4,372.6C329.8,377.4 326.9,381.7 324.1,385.6C321.3,389.6 318.2,393.1 315.8,396.3C313.4,399.5 311.3,401.5 309.9,404.6C308.5,407.7 307.6,411.4 307.3,415.0C307.0,418.6 307.5,422.5 307.8,426.0C308.1,429.5 308.9,432.7 309.3,436.0C309.7,439.3 310.3,442.8 310.2,446.0C310.1,449.2 309.6,452.8 308.5,455.5C307.4,458.2 305.5,460.5 303.5,462.2C301.5,463.9 299.6,464.9 296.5,465.9C293.4,466.9 288.6,467.9 284.7,468.2C280.8,468.4 276.8,468.1 272.9,467.4C269.0,466.7 265.1,465.6 261.2,464.1C257.3,462.6 253.1,460.3 249.4,458.2C245.7,456.1 242.5,454.3 239.1,451.6C235.7,448.9 232.0,445.3 228.8,442.1C225.6,438.9 222.7,435.6 220.0,432.5C217.3,429.4 214.8,426.5 212.5,423.5C210.2,420.5 208.6,418.3 206.3,414.5C204.0,410.7 201.0,405.8 198.5,400.9C196.0,396.0 193.6,390.5 191.4,385.4C189.2,380.2 187.1,375.1 185.4,370.0C183.8,364.9 182.4,360.5 181.5,355.0C180.6,349.5 180.0,342.8 179.8,337.0C179.6,331.2 180.1,325.8 180.5,320.0Z"/>
<path d="M260.5,226.7C262.8,225.8 269.7,222.9 274.5,221.4C279.3,219.9 284.4,218.3 289.3,217.6C294.2,216.8 299.5,216.8 304.2,216.9C308.9,217.1 313.0,217.9 317.5,218.5C322.0,219.1 326.8,219.8 331.0,220.5C335.2,221.2 339.0,221.6 343.0,222.5C347.0,223.4 351.6,224.2 354.8,225.7C358.1,227.2 360.6,228.7 362.5,231.5C364.4,234.3 365.7,238.7 366.2,242.5C366.7,246.3 366.2,250.5 365.3,254.5C364.4,258.5 362.6,262.6 361.0,266.5C359.4,270.4 357.7,274.2 356.0,278.0C354.3,281.8 352.7,284.9 351.0,289.0C349.3,293.1 347.7,298.1 346.0,302.5C344.3,306.9 342.7,311.2 341.0,315.5C339.3,319.8 337.7,324.3 335.6,328.4C333.5,332.4 330.4,336.2 328.3,339.8C326.2,343.4 325.4,345.5 322.9,350.0C320.4,354.5 316.4,361.7 313.4,366.6C310.4,371.6 307.9,375.4 305.1,379.7C302.3,384.0 299.2,388.8 296.8,392.7C294.4,396.6 292.5,399.6 290.9,403.4C289.3,407.2 288.2,411.3 287.3,415.3C286.4,419.3 286.4,424.2 285.5,427.4C284.6,430.6 283.7,432.8 281.8,434.7C279.9,436.6 277.3,438.6 274.4,439.1C271.4,439.6 267.0,438.3 264.1,437.6C261.2,436.9 260.0,436.4 256.8,434.7C253.6,433.0 248.4,429.8 245.0,427.4C241.6,424.9 238.8,423.0 236.2,420.0C233.6,417.0 232.0,413.2 229.3,409.2C226.6,405.2 222.7,400.5 219.9,396.1C217.1,391.8 214.9,387.5 212.7,383.1C210.5,378.8 208.4,374.2 206.8,370.0C205.2,365.8 204.4,362.9 203.4,358.0C202.4,353.1 201.3,347.1 201.0,340.8C200.7,334.5 200.9,326.5 201.3,320.0C201.7,313.5 202.5,307.0 203.2,302.0C203.9,297.0 204.4,293.5 205.5,290.0C206.6,286.5 208.5,283.9 210.0,281.0C211.5,278.1 213.1,274.8 214.5,272.5C215.9,270.2 218.0,267.9 218.7,267.0"/>
<path d="M215.0,320.0C215.1,313.8 216.2,308.8 217.0,305.0C217.8,301.2 218.6,299.5 219.5,297.0C220.4,294.5 221.2,292.7 222.5,290.0C223.8,287.3 225.3,284.0 227.0,281.0C228.7,278.0 231.0,274.3 232.5,272.0C234.0,269.7 234.7,268.9 236.0,267.1C237.3,265.3 238.7,263.1 240.2,261.2C241.7,259.3 243.4,257.5 244.9,256.0C246.4,254.5 246.8,254.4 248.9,252.3C251.1,250.2 254.8,245.9 257.8,243.4C260.8,240.9 263.7,238.7 266.7,237.1C269.7,235.5 272.6,234.5 275.6,233.6C278.6,232.7 281.5,232.2 284.5,231.8C287.5,231.4 290.1,231.3 293.4,231.3C296.6,231.3 300.1,231.3 304.0,232.0C307.9,232.7 312.8,233.9 317.0,235.5C321.2,237.1 325.7,239.2 329.0,241.5C332.3,243.8 335.1,246.4 337.0,249.5C338.9,252.6 340.1,256.2 340.5,260.0C340.9,263.8 340.2,268.0 339.5,272.0C338.8,276.0 337.5,279.8 336.0,284.0C334.5,288.2 332.3,292.7 330.5,297.0C328.7,301.3 326.8,306.0 325.0,310.0C323.2,314.0 321.6,316.8 319.5,321.0C317.4,325.2 314.8,330.5 312.5,335.0C310.2,339.5 307.7,344.3 305.5,348.0C303.3,351.7 301.4,353.8 299.2,357.1C296.9,360.4 294.6,364.0 292.0,367.8C289.4,371.6 286.5,375.9 283.7,379.7C280.9,383.5 278.2,386.8 275.4,390.4C272.6,393.9 269.7,398.3 267.1,401.0C264.5,403.7 262.4,405.9 260.0,406.5C257.6,407.1 254.9,405.6 252.5,404.5C250.1,403.4 247.8,401.8 245.5,400.0C243.2,398.2 241.3,396.7 238.8,393.7C236.3,390.7 233.1,385.8 230.5,381.9C227.9,377.9 225.2,374.1 223.4,370.0C221.6,365.9 220.7,361.6 219.5,357.0C218.3,352.4 217.1,348.5 216.3,342.3C215.6,336.1 214.9,326.2 215.0,320.0Z"/>
<path d="M230.0,320.0C230.2,314.2 231.5,309.3 232.5,305.0C233.5,300.7 234.8,297.2 236.0,294.0C237.2,290.8 238.1,289.1 239.6,286.0C241.1,282.9 243.3,278.0 244.9,275.1C246.5,272.2 247.9,271.0 249.4,268.9C250.9,266.8 252.0,264.8 253.8,262.7C255.6,260.6 257.9,257.9 260.0,256.0C262.1,254.1 264.5,252.4 266.5,251.0C268.5,249.6 269.7,248.8 272.1,247.8C274.5,246.8 278.0,245.6 281.0,245.1C284.0,244.6 286.7,244.7 289.9,245.1C293.1,245.5 296.6,246.4 300.0,247.5C303.4,248.6 307.3,249.6 310.1,251.8C312.9,254.0 315.5,257.2 317.0,260.5C318.5,263.8 318.9,267.4 319.0,271.5C319.1,275.6 318.4,280.9 317.5,285.0C316.6,289.1 315.1,292.2 313.5,296.0C311.9,299.8 309.8,304.0 308.0,308.0C306.2,312.0 304.2,315.5 302.5,320.0C300.8,324.5 299.2,330.3 297.5,335.0C295.8,339.7 294.2,344.1 292.0,348.0C289.8,351.9 287.2,355.4 284.0,358.5C280.8,361.6 276.6,364.5 273.0,366.5C269.4,368.5 265.6,370.0 262.3,370.4C259.0,370.8 256.6,370.2 253.4,369.0C250.2,367.8 246.0,365.5 243.0,363.0C240.0,360.5 237.6,357.9 235.6,354.1C233.6,350.3 232.1,345.7 231.2,340.0C230.3,334.3 229.8,325.8 230.0,320.0Z"/>
<path d="M244.5,320.0C244.4,316.0 245.2,310.2 246.0,306.0C246.8,301.8 248.1,297.7 249.0,295.0C249.9,292.3 250.1,292.5 251.6,290.0C253.1,287.5 255.6,283.2 257.8,279.9C260.0,276.6 262.7,272.6 264.9,270.1C267.1,267.6 269.1,265.9 271.2,264.7C273.3,263.5 275.2,263.2 277.4,262.9C279.6,262.6 282.4,262.6 284.5,262.9C286.6,263.2 288.3,263.6 289.9,264.7C291.5,265.8 293.3,267.3 294.3,269.2C295.3,271.1 295.9,273.7 296.1,276.3C296.3,278.9 296.0,281.7 295.6,285.0C295.2,288.3 294.4,292.2 293.5,296.0C292.6,299.8 291.7,304.0 290.5,308.0C289.3,312.0 288.2,316.4 286.5,320.0C284.8,323.6 282.6,326.5 280.5,329.5C278.4,332.5 276.5,335.6 274.2,337.8C271.9,340.1 269.3,342.0 266.8,343.0C264.3,344.0 261.9,344.4 259.3,343.7C256.8,343.0 253.6,341.3 251.5,339.0C249.4,336.7 247.7,333.2 246.5,330.0C245.3,326.8 244.6,324.0 244.5,320.0Z"/>
</g>
<g fill="none" stroke="#cc1a28" stroke-width="2" stroke-dasharray="18,8.5">
<path d="M348.3,462.0C347.2,460.0 343.5,454.0 341.5,449.9C339.5,445.8 337.9,442.2 336.4,437.4C334.9,432.5 333.1,426.0 332.7,420.8C332.3,415.6 332.9,410.1 334.2,406.0C335.4,401.9 337.8,400.3 340.2,396.5C342.6,392.7 345.9,387.9 348.5,383.4C351.1,378.8 353.4,374.7 355.6,369.2C357.8,363.7 359.5,355.2 361.5,350.2C363.5,345.2 365.2,343.4 367.4,339.0C369.6,334.6 372.3,329.8 374.8,324.1C377.3,318.4 380.3,310.5 382.3,304.8C384.3,299.1 385.4,293.4 386.7,290.0C388.0,286.6 389.0,287.1 390.4,284.2C391.8,281.2 393.4,276.3 394.9,272.3C396.4,268.3 397.7,263.9 399.3,260.4C400.9,256.9 402.4,254.1 404.5,251.5C406.6,248.9 409.2,246.5 411.9,244.9C414.6,243.3 417.8,242.4 420.8,241.9C423.8,241.4 426.7,241.5 429.7,241.9C432.7,242.3 435.6,243.2 438.6,244.4C441.6,245.6 444.5,247.3 447.5,248.9C450.5,250.5 452.7,251.6 456.4,253.8C460.1,256.0 465.5,258.9 469.8,262.0C474.1,265.1 478.4,269.1 482.3,272.7C486.2,276.3 489.7,279.5 493.0,283.4C496.3,287.3 499.2,291.8 501.9,295.9C504.6,300.0 507.1,303.9 509.0,308.3C510.9,312.8 512.2,317.7 513.5,322.6C514.8,327.6 515.8,331.8 516.5,338.0C517.2,344.2 518.2,352.1 518.0,360.0C517.8,367.9 516.5,377.9 515.0,385.7C513.5,393.4 511.6,399.9 508.8,406.5C506.0,413.1 502.2,419.7 498.4,425.2C494.6,430.7 490.4,434.9 485.9,439.7C481.4,444.5 475.9,450.0 471.4,454.2C466.9,458.4 463.0,461.5 458.9,464.6C454.8,467.7 450.1,470.2 446.5,472.9C442.9,475.5 439.9,478.3 437.0,480.5C434.1,482.7 432.2,484.4 428.8,486.2C425.4,488.0 421.2,489.8 416.3,491.4C411.4,493.0 405.2,494.6 399.7,495.6C394.2,496.6 388.6,497.4 383.1,497.6C377.6,497.8 371.0,497.5 366.5,496.6C362.0,495.8 357.8,493.2 356.0,492.5"/>
<path d="M419.3,267.9C421.7,265.8 424.7,265.1 427.5,264.4C430.3,263.7 433.1,263.0 436.0,263.5C438.9,264.0 442.3,265.9 445.0,267.5C447.7,269.1 449.6,271.2 452.0,273.0C454.4,274.8 456.5,275.9 459.2,278.5C461.9,281.1 465.4,285.0 468.1,288.8C470.8,292.6 473.1,297.1 475.2,301.2C477.3,305.3 479.0,309.5 480.5,313.7C482.0,317.9 483.1,322.0 484.1,326.1C485.1,330.2 485.9,334.6 486.5,338.6C487.1,342.7 487.4,345.0 487.5,350.4C487.6,355.8 487.6,364.3 487.0,371.2C486.4,378.1 485.5,385.3 483.9,391.9C482.3,398.5 480.4,404.4 477.6,410.6C474.8,416.8 471.0,423.8 467.2,429.3C463.4,434.9 458.9,439.9 454.8,443.9C450.7,447.9 446.7,450.7 442.3,453.2C437.9,455.7 432.9,457.7 428.3,459.0C423.8,460.3 419.7,461.1 415.0,461.0C410.3,460.9 405.0,459.7 400.3,458.3C395.6,456.9 391.1,454.7 386.7,452.6C382.3,450.6 377.6,448.5 374.0,446.0C370.4,443.5 367.7,440.9 365.4,437.4C363.1,433.9 361.2,429.0 360.2,424.9C359.2,420.8 359.3,416.5 359.5,412.5C359.7,408.5 360.1,405.1 361.4,401.0C362.7,396.9 365.2,392.6 367.4,388.0C369.6,383.4 372.3,377.5 374.6,373.5C376.9,369.5 378.9,367.9 381.2,364.0C383.5,360.1 386.4,355.1 388.7,350.4C391.0,345.7 393.6,340.9 394.9,335.8C396.2,330.7 395.5,325.2 396.4,319.7C397.2,314.2 398.6,307.4 400.0,303.0C401.4,298.6 403.5,295.9 405.0,293.0C406.5,290.1 407.6,288.4 409.0,285.7C410.4,283.0 411.7,279.8 413.4,276.8C415.1,273.8 416.9,270.0 419.3,267.9Z"/>
<path d="M409.0,364.2C409.7,361.7 412.7,354.2 413.4,349.3C414.1,344.4 413.3,339.4 413.4,334.5C413.5,329.6 413.5,324.3 414.2,319.7C414.9,315.1 416.1,310.7 417.5,307.0C418.9,303.3 420.6,300.2 422.5,297.5C424.4,294.8 426.6,292.2 429.0,291.0C431.4,289.8 434.3,290.0 437.0,290.5C439.7,291.0 442.5,292.2 445.0,294.0C447.5,295.8 449.9,298.5 452.0,301.5C454.1,304.5 455.9,308.4 457.4,311.9C458.9,315.4 459.7,318.5 460.9,322.6C462.1,326.8 463.6,332.2 464.5,336.8C465.4,341.4 466.0,345.8 466.2,350.0C466.4,354.2 466.0,357.8 465.5,362.0C465.0,366.2 464.5,370.3 463.1,375.3C461.7,380.3 459.7,386.7 456.9,391.9C454.1,397.1 450.3,402.3 446.5,406.5C442.7,410.7 438.2,413.9 434.0,416.9C429.8,419.9 425.4,422.6 421.0,424.5C416.6,426.4 411.8,427.9 407.5,428.2C403.2,428.4 398.6,427.4 395.0,426.0C391.4,424.6 388.1,422.2 386.0,419.5C383.9,416.8 383.0,413.1 382.5,410.0C382.0,406.9 382.7,404.3 383.1,401.0C383.6,397.7 384.9,391.8 385.2,390.0"/>
</g>
<line x1="225" y1="254.5" x2="235.4" y2="245.6" stroke="#1414b4" stroke-width="1.5"/>
<text id="lb9" x="0" y="0" font-family="'Liberation Sans', Arial, Helvetica, sans-serif" font-size="24.15" fill="#1414b4" transform="translate(242.20,237.35) rotate(-40)" text-anchor="middle" dominant-baseline="central">9</text>
<text id="lb15" x="0" y="0" font-family="'Liberation Sans', Arial, Helvetica, sans-serif" font-size="23.79" fill="#cc1a28" transform="translate(392.95,376.20) rotate(-48)" text-anchor="middle" dominant-baseline="central">15</text>
<text id="lb3" x="0" y="0" font-family="'Liberation Sans', Arial, Helvetica, sans-serif" font-size="25.44" fill="#cc1a28" transform="translate(351.60,465.35) rotate(90)" text-anchor="middle" dominant-baseline="central">3</text>
<circle cx="349.3" cy="325.3" r="4.5" fill="#fefef8"/>
<path d="M157.2,300.0C158.6,294.6 159.3,291.7 160.8,287.7C162.3,283.7 164.0,279.8 166.1,275.8C168.2,271.8 170.6,268.0 173.2,263.9C175.8,259.8 178.5,255.1 181.5,250.9C184.5,246.8 187.6,242.8 191.0,239.0C194.4,235.2 198.1,231.5 201.7,228.3C205.3,225.1 209.0,222.6 212.4,220.0C215.8,217.4 218.0,215.3 222.1,212.6C226.2,209.9 231.9,206.2 236.8,203.8C241.7,201.4 246.6,199.5 251.5,197.9C256.4,196.3 261.3,195.4 266.2,194.3C271.1,193.2 275.3,192.2 280.9,191.3C286.5,190.4 293.2,189.6 300.0,189.1C306.8,188.6 314.5,188.3 321.5,188.3C328.5,188.3 335.1,188.7 342.0,189.3C348.9,189.9 354.4,190.3 363.1,192.0C371.8,193.7 384.7,197.0 394.2,199.5C403.7,202.0 411.7,204.5 420.0,207.0C428.3,209.5 436.6,211.9 444.0,214.5C451.4,217.1 457.4,218.8 464.5,222.3C471.6,225.8 479.3,229.7 486.7,235.6C494.1,241.5 502.3,250.5 509.0,257.9C515.7,265.3 521.6,272.0 526.8,280.1C532.0,288.2 536.8,298.7 540.1,306.8C543.4,314.9 545.3,322.3 546.8,329.0C548.3,335.7 549.0,340.2 549.0,346.9C549.0,353.6 548.3,361.0 546.8,369.1C545.3,377.2 542.7,386.9 540.1,395.8C537.5,404.7 534.9,413.6 531.2,422.5C527.5,431.4 523.1,441.0 517.9,449.2C512.7,457.4 506.7,464.8 500.0,471.5C493.3,478.2 484.5,484.9 477.8,489.3C471.1,493.8 467.5,494.8 460.0,498.2C452.5,501.6 442.0,506.5 433.0,510.0C424.0,513.5 414.7,516.6 405.9,519.0C397.1,521.4 388.3,523.2 380.0,524.5C371.7,525.8 362.9,526.5 355.9,526.8C348.9,527.1 344.1,526.5 338.2,526.1C332.3,525.7 326.5,525.1 320.6,524.4C314.7,523.7 308.8,523.0 302.9,521.7C297.0,520.4 291.2,518.8 285.3,516.8C279.4,514.8 273.7,512.4 267.6,509.7C261.6,507.0 254.6,503.8 249.0,500.5C243.4,497.2 239.1,493.8 234.2,490.1C229.2,486.4 224.0,482.1 219.3,478.2C214.6,474.2 210.2,470.6 206.0,466.4C201.8,462.2 197.8,457.7 194.1,453.0C190.4,448.3 186.9,443.1 183.7,438.2C180.5,433.3 177.9,428.8 174.8,423.4C171.7,418.0 167.7,411.0 165.2,406.1C162.7,401.2 161.6,398.7 160.0,394.2C158.4,389.7 156.8,384.2 155.6,379.3C154.4,374.4 153.3,369.4 152.6,364.5C151.8,359.6 151.3,354.6 151.1,349.7C150.8,344.8 150.8,339.8 151.1,334.8C151.3,329.9 151.6,325.8 152.6,320.0C153.6,314.2 155.8,305.4 157.2,300.0Z" fill="none" stroke="#a0e050" stroke-width="1.8"/>
<path d="M157.2,300.0C158.6,294.6 159.3,291.7 160.8,287.7C162.3,283.7 164.0,279.8 166.1,275.8C168.2,271.8 170.6,268.0 173.2,263.9C175.8,259.8 178.5,255.1 181.5,250.9C184.5,246.8 187.6,242.8 191.0,239.0C194.4,235.2 198.1,231.5 201.7,228.3C205.3,225.1 209.0,222.6 212.4,220.0C215.8,217.4 218.0,215.3 222.1,212.6C226.2,209.9 231.9,206.2 236.8,203.8C241.7,201.4 246.6,199.5 251.5,197.9C256.4,196.3 261.3,195.4 266.2,194.3C271.1,193.2 275.3,192.2 280.9,191.3C286.5,190.4 293.2,189.6 300.0,189.1C306.8,188.6 314.5,188.3 321.5,188.3C328.5,188.3 335.1,188.7 342.0,189.3C348.9,189.9 354.4,190.3 363.1,192.0C371.8,193.7 384.7,197.0 394.2,199.5C403.7,202.0 411.7,204.5 420.0,207.0C428.3,209.5 436.6,211.9 444.0,214.5C451.4,217.1 457.4,218.8 464.5,222.3C471.6,225.8 479.3,229.7 486.7,235.6C494.1,241.5 502.3,250.5 509.0,257.9C515.7,265.3 521.6,272.0 526.8,280.1C532.0,288.2 536.8,298.7 540.1,306.8C543.4,314.9 545.3,322.3 546.8,329.0C548.3,335.7 549.0,340.2 549.0,346.9C549.0,353.6 548.3,361.0 546.8,369.1C545.3,377.2 542.7,386.9 540.1,395.8C537.5,404.7 534.9,413.6 531.2,422.5C527.5,431.4 523.1,441.0 517.9,449.2C512.7,457.4 506.7,464.8 500.0,471.5C493.3,478.2 484.5,484.9 477.8,489.3C471.1,493.8 467.5,494.8 460.0,498.2C452.5,501.6 442.0,506.5 433.0,510.0C424.0,513.5 414.7,516.6 405.9,519.0C397.1,521.4 388.3,523.2 380.0,524.5C371.7,525.8 362.9,526.5 355.9,526.8C348.9,527.1 344.1,526.5 338.2,526.1C332.3,525.7 326.5,525.1 320.6,524.4C314.7,523.7 308.8,523.0 302.9,521.7C297.0,520.4 291.2,518.8 285.3,516.8C279.4,514.8 273.7,512.4 267.6,509.7C261.6,507.0 254.6,503.8 249.0,500.5C243.4,497.2 239.1,493.8 234.2,490.1C229.2,486.4 224.0,482.1 219.3,478.2C214.6,474.2 210.2,470.6 206.0,466.4C201.8,462.2 197.8,457.7 194.1,453.0C190.4,448.3 186.9,443.1 183.7,438.2C180.5,433.3 177.9,428.8 174.8,423.4C171.7,418.0 167.7,411.0 165.2,406.1C162.7,401.2 161.6,398.7 160.0,394.2C158.4,389.7 156.8,384.2 155.6,379.3C154.4,374.4 153.3,369.4 152.6,364.5C151.8,359.6 151.3,354.6 151.1,349.7C150.8,344.8 150.8,339.8 151.1,334.8C151.3,329.9 151.6,325.8 152.6,320.0C153.6,314.2 155.8,305.4 157.2,300.0Z" fill="none" stroke="#000" stroke-width="1.6" stroke-dasharray="8.5,9"/>
<g stroke-width="1.1" stroke-linecap="round">
<line x1="322.9" y1="211.2" x2="331.8" y2="212.9" stroke="#7ee03c"/><circle cx="322.9" cy="211.2" r="1.5" fill="#7ee03c"/>
<line x1="331.2" y1="209.4" x2="340.0" y2="211.2" stroke="#7ee03c"/><circle cx="331.2" cy="209.4" r="1.5" fill="#7ee03c"/>
<line x1="339.4" y1="208.8" x2="350.6" y2="209.4" stroke="#7ee03c"/><circle cx="339.4" cy="208.8" r="1.5" fill="#7ee03c"/>
<line x1="314.7" y1="213.5" x2="327.1" y2="215.9" stroke="#f0a020"/><circle cx="314.7" cy="213.5" r="1.5" fill="#f0a020"/>
<line x1="327.6" y1="218.2" x2="337.0" y2="219.5" stroke="#7ee03c"/><circle cx="327.6" cy="218.2" r="1.5" fill="#7ee03c"/>
<line x1="335.9" y1="217.4" x2="345.0" y2="219.0" stroke="#7ee03c"/><circle cx="335.9" cy="217.4" r="1.5" fill="#7ee03c"/>
<line x1="344.1" y1="216.5" x2="353.0" y2="218.0" stroke="#7ee03c"/><circle cx="344.1" cy="216.5" r="1.5" fill="#7ee03c"/>
<line x1="351.8" y1="215.9" x2="364.7" y2="217.6" stroke="#7ee03c"/><circle cx="351.8" cy="215.9" r="1.5" fill="#7ee03c"/>
<line x1="320.0" y1="220.6" x2="335.3" y2="222.9" stroke="#b06018"/><circle cx="320.0" cy="220.6" r="1.5" fill="#b06018"/>
<line x1="311.8" y1="222.9" x2="325.9" y2="227.1" stroke="#f0a020"/><circle cx="311.8" cy="222.9" r="1.5" fill="#f0a020"/>
<line x1="324.7" y1="227.1" x2="338.8" y2="231.2" stroke="#f0a020"/><circle cx="324.7" cy="227.1" r="1.5" fill="#f0a020"/>
<line x1="332.4" y1="225.9" x2="341.0" y2="227.5" stroke="#7ee03c"/><circle cx="332.4" cy="225.9" r="1.5" fill="#7ee03c"/>
<line x1="340.6" y1="225.1" x2="349.4" y2="226.5" stroke="#7ee03c"/><circle cx="340.6" cy="225.1" r="1.5" fill="#7ee03c"/>
<line x1="348.8" y1="224.5" x2="357.6" y2="226.0" stroke="#7ee03c"/><circle cx="348.8" cy="224.5" r="1.5" fill="#7ee03c"/>
<line x1="357.1" y1="224.1" x2="365.9" y2="227.6" stroke="#7ee03c"/><circle cx="357.1" cy="224.1" r="1.5" fill="#7ee03c"/>
<line x1="316.5" y1="230.4" x2="331.8" y2="234.7" stroke="#f0a020"/><circle cx="316.5" cy="230.4" r="1.5" fill="#f0a020"/>
<line x1="316.5" y1="257.1" x2="325.9" y2="264.7" stroke="#7ee03c"/><circle cx="316.5" cy="257.1" r="1.5" fill="#7ee03c"/>
<line x1="324.1" y1="253.5" x2="333.5" y2="261.2" stroke="#7ee03c"/><circle cx="324.1" cy="253.5" r="1.5" fill="#7ee03c"/>
<line x1="423.0" y1="232.9" x2="413.7" y2="233.4" stroke="#3c8068"/><circle cx="423.0" cy="232.9" r="1.5" fill="#3c8068"/>
<line x1="433.3" y1="230.8" x2="425.0" y2="229.8" stroke="#3c8068"/><circle cx="433.3" cy="230.8" r="1.5" fill="#3c8068"/>
<line x1="439.4" y1="236.5" x2="433.3" y2="234.4" stroke="#3c8068"/><circle cx="439.4" cy="236.5" r="1.5" fill="#3c8068"/>
<line x1="429.6" y1="238.5" x2="417.8" y2="237.0" stroke="#7ee03c"/><circle cx="429.6" cy="238.5" r="1.5" fill="#7ee03c"/>
<line x1="444.6" y1="242.1" x2="435.8" y2="239.1" stroke="#7ee03c"/><circle cx="444.6" cy="242.1" r="1.5" fill="#7ee03c"/>
<line x1="449.7" y1="248.3" x2="443.6" y2="244.7" stroke="#7ee03c"/><circle cx="449.7" cy="248.3" r="1.5" fill="#7ee03c"/>
<line x1="409.6" y1="242.9" x2="400.3" y2="250.1" stroke="#7ee03c"/><circle cx="409.6" cy="242.9" r="1.5" fill="#7ee03c"/>
<line x1="419.9" y1="240.6" x2="412.7" y2="240.6" stroke="#7ee03c"/><circle cx="419.9" cy="240.6" r="1.5" fill="#7ee03c"/>
<line x1="425.5" y1="245.7" x2="416.3" y2="246.8" stroke="#7ee03c"/><circle cx="425.5" cy="245.7" r="1.5" fill="#7ee03c"/>
<line x1="434.8" y1="244.2" x2="426.6" y2="242.1" stroke="#7ee03c"/><circle cx="434.8" cy="244.2" r="1.5" fill="#7ee03c"/>
<line x1="415.7" y1="247.8" x2="407.5" y2="254.0" stroke="#7ee03c"/><circle cx="415.7" cy="247.8" r="1.5" fill="#7ee03c"/>
<line x1="421.9" y1="253.5" x2="413.7" y2="256.6" stroke="#7ee03c"/><circle cx="421.9" cy="253.5" r="1.5" fill="#7ee03c"/>
<line x1="412.1" y1="255.5" x2="402.9" y2="261.7" stroke="#7ee03c"/><circle cx="412.1" cy="255.5" r="1.5" fill="#7ee03c"/>
<line x1="427.6" y1="259.1" x2="419.4" y2="260.2" stroke="#7ee03c"/><circle cx="427.6" cy="259.1" r="1.5" fill="#7ee03c"/>
<line x1="418.3" y1="261.2" x2="409.1" y2="266.3" stroke="#7ee03c"/><circle cx="418.3" cy="261.2" r="1.5" fill="#7ee03c"/>
<line x1="432.2" y1="266.3" x2="424.0" y2="264.3" stroke="#7ee03c"/><circle cx="432.2" cy="266.3" r="1.5" fill="#7ee03c"/>
<line x1="423.5" y1="267.4" x2="415.2" y2="271.5" stroke="#7ee03c"/><circle cx="423.5" cy="267.4" r="1.5" fill="#7ee03c"/>
<line x1="436.9" y1="273.0" x2="428.6" y2="271.0" stroke="#7ee03c"/><circle cx="436.9" cy="273.0" r="1.5" fill="#7ee03c"/>
<line x1="405.4" y1="250.9" x2="400.3" y2="257.1" stroke="#f0a020"/><circle cx="405.4" cy="250.9" r="1.5" fill="#f0a020"/>
<line x1="431.2" y1="251.9" x2="423.0" y2="248.8" stroke="#f0a020"/><circle cx="431.2" cy="251.9" r="1.5" fill="#f0a020"/>
<line x1="440.5" y1="249.9" x2="432.2" y2="246.8" stroke="#f0a020"/><circle cx="440.5" cy="249.9" r="1.5" fill="#f0a020"/>
<line x1="445.6" y1="256.0" x2="437.4" y2="253.0" stroke="#f0a020"/><circle cx="445.6" cy="256.0" r="1.5" fill="#f0a020"/>
<line x1="436.3" y1="258.1" x2="428.1" y2="256.0" stroke="#f0a020"/><circle cx="436.3" cy="258.1" r="1.5" fill="#f0a020"/>
<line x1="440.5" y1="264.3" x2="434.3" y2="262.2" stroke="#f0a020"/><circle cx="440.5" cy="264.3" r="1.5" fill="#f0a020"/>
<line x1="408.5" y1="263.3" x2="404.4" y2="269.4" stroke="#f5c030"/><circle cx="408.5" cy="263.3" r="1.5" fill="#f5c030"/>
<line x1="405.4" y1="270.5" x2="402.4" y2="275.6" stroke="#f5c030"/><circle cx="405.4" cy="270.5" r="1.5" fill="#f5c030"/>
<line x1="202.3" y1="376.0" x2="197.0" y2="361.5" stroke="#f0a020"/><circle cx="202.3" cy="376.0" r="1.5" fill="#f0a020"/>
<line x1="206.5" y1="386.5" x2="202.3" y2="376.0" stroke="#f0a020"/><circle cx="206.5" cy="386.5" r="1.5" fill="#f0a020"/>
<line x1="211.7" y1="400.0" x2="206.5" y2="386.5" stroke="#f0a020"/><circle cx="211.7" cy="400.0" r="1.5" fill="#f0a020"/>
<line x1="197.3" y1="386.0" x2="192.5" y2="373.5" stroke="#7ee03c"/><circle cx="197.3" cy="386.0" r="1.5" fill="#7ee03c"/>
<line x1="185.6" y1="378.7" x2="183.0" y2="370.4" stroke="#3c8068"/><circle cx="185.6" cy="378.7" r="1.5" fill="#3c8068"/>
<line x1="177.9" y1="379.7" x2="176.3" y2="374.6" stroke="#3c8068"/><circle cx="177.9" cy="379.7" r="1.5" fill="#3c8068"/>
<line x1="180.5" y1="387.4" x2="177.9" y2="379.7" stroke="#3c8068"/><circle cx="180.5" cy="387.4" r="1.5" fill="#3c8068"/>
<line x1="183.6" y1="395.2" x2="180.5" y2="387.4" stroke="#3c8068"/><circle cx="183.6" cy="395.2" r="1.5" fill="#3c8068"/>
<line x1="175.3" y1="396.2" x2="174.3" y2="392.2" stroke="#2040b0"/><circle cx="175.3" cy="396.2" r="1.5" fill="#2040b0"/>
<line x1="178.4" y1="402.4" x2="177.4" y2="398.4" stroke="#2040b0"/><circle cx="178.4" cy="402.4" r="1.5" fill="#2040b0"/>
<line x1="181.9" y1="411.0" x2="180.9" y2="407.0" stroke="#2040b0"/><circle cx="181.9" cy="411.0" r="1.5" fill="#2040b0"/>
<line x1="170.6" y1="406.2" x2="169.6" y2="402.2" stroke="#2040b0"/><circle cx="170.6" cy="406.2" r="1.5" fill="#2040b0"/>
<line x1="242.0" y1="459.7" x2="235.4" y2="455.3" stroke="#3c8068"/><circle cx="242.0" cy="459.7" r="1.5" fill="#3c8068"/>
<line x1="310.9" y1="444.6" x2="312.0" y2="452.0" stroke="#7ee03c"/><circle cx="310.9" cy="444.6" r="1.5" fill="#7ee03c"/>
<line x1="319.2" y1="445.7" x2="322.0" y2="455.0" stroke="#7ee03c"/><circle cx="319.2" cy="445.7" r="1.5" fill="#7ee03c"/>
</g>
<line x1="259" y1="306.3" x2="270" y2="306.3" stroke="#000" stroke-width="1.2"/>
<path d="M432.5,343.5H443.5M438,338V349" stroke="#000" stroke-width="1.2"/>
<g font-family="'Liberation Sans', Arial, Helvetica, sans-serif">
<g fill="#c8c2cf" stroke="#c8c2cf"><circle cx="384.1" cy="90.9" r="3.6" stroke="none"/><path d="M384.1,83.4v15M376.6,90.9h15" stroke-width="1.6" fill="none"/></g>
<g fill="#c8c2cf" stroke="#c8c2cf"><circle cx="323.5" cy="187.1" r="3.6" stroke="none"/><path d="M323.5,179.6v15M316.0,187.1h15" stroke-width="1.6" fill="none"/></g>
<g fill="#c8c2cf" stroke="#c8c2cf"><circle cx="465.3" cy="226.5" r="3.6" stroke="none"/><path d="M465.3,219.0v15M457.8,226.5h15" stroke-width="1.6" fill="none"/></g>
<g fill="#c8c2cf" stroke="#c8c2cf"><circle cx="148.5" cy="372.0" r="3.6" stroke="none"/><path d="M148.5,364.5v15M141.0,372.0h15" stroke-width="1.6" fill="none"/></g>
<g fill="#c8c2cf" stroke="#c8c2cf"><circle cx="190.0" cy="518.2" r="3.6" stroke="none"/><path d="M190.0,510.7v15M182.5,518.2h15" stroke-width="1.6" fill="none"/></g>
<circle cx="380" cy="113.2" r="1.3" fill="#c0c0c0"/>
<rect x="28.5" y="2.5" width="645.0" height="645.0" fill="none" stroke="#222" stroke-width="1.3"/>
<rect x="43.2" y="15.00" width="13.4" height="14.18" fill="#ff0000"/>
<rect x="43.2" y="28.88" width="13.4" height="14.18" fill="#ff3a10"/>
<rect x="43.2" y="42.75" width="13.4" height="14.18" fill="#ff7a00"/>
<rect x="43.2" y="56.62" width="13.4" height="14.18" fill="#ffb400"/>
<rect x="43.2" y="70.50" width="13.4" height="14.18" fill="#66d22e"/>
<rect x="43.2" y="84.38" width="13.4" height="14.18" fill="#3f8f6e"/>
<rect x="43.2" y="98.25" width="13.4" height="14.18" fill="#2848c0"/>
<rect x="43.2" y="112.12" width="13.4" height="14.18" fill="#0000ff"/>
<line x1="43.2" x2="56.6" y1="42.75" y2="42.75" stroke="#111" stroke-width="1"/>
<line x1="43.2" x2="56.6" y1="70.50" y2="70.50" stroke="#111" stroke-width="1"/>
<line x1="43.2" x2="56.6" y1="98.25" y2="98.25" stroke="#111" stroke-width="1"/>
<rect x="43.2" y="15" width="13.4" height="111" fill="none" stroke="#111" stroke-width="1"/>
<line x1="40.6" y1="163.4" x2="76.5" y2="163.2" stroke="#c0203a" stroke-width="1.2"/><circle cx="40.6" cy="163.4" r="1.8" fill="#c0203a"/>
<path d="M604.1,20.6V95.5M582.3,58.3H626" stroke="#111" stroke-width="1.1" fill="none"/>
<path d="M604.1,58.3L603,71" stroke="#d01818" stroke-width="1.5"/><path d="M600,68L602.6,76L606,68.5Z" fill="#d01818"/>
<text id="ti1" x="201.40" y="27.85" font-size="18.00" fill="#000" text-anchor="start" textLength="113.62" lengthAdjust="spacingAndGlyphs" stroke="#000" stroke-width="0.4">07/Jul/2009</text>
<text id="ti2" x="325.55" y="26.60" font-size="18.00" fill="#000" text-anchor="start" textLength="111.96" lengthAdjust="spacingAndGlyphs" stroke="#000" stroke-width="0.4">19:00&#8722;19:02</text>
<text id="ti3" x="447.55" y="26.60" font-size="18.00" fill="#000" text-anchor="start" textLength="18.30" lengthAdjust="spacingAndGlyphs" stroke="#000" stroke-width="0.4">UT</text>
<text id="cb6" x="58.30" y="47.00" font-size="10.50" fill="#000" text-anchor="start" textLength="20.29" lengthAdjust="spacingAndGlyphs" stroke="#000" stroke-width="0.4">600</text>
<text id="cb4" x="58.80" y="74.50" font-size="10.50" fill="#000" text-anchor="start" textLength="19.28" lengthAdjust="spacingAndGlyphs" stroke="#000" stroke-width="0.4">400</text>
<text id="cb2" x="58.30" y="101.90" font-size="10.50" fill="#000" text-anchor="start" textLength="20.29" lengthAdjust="spacingAndGlyphs" stroke="#000" stroke-width="0.4">200</text>
<text id="vel" x="88.95" y="95.15" font-size="11.50" fill="#000" text-anchor="start" transform="rotate(-90 88.95 95.15)" textLength="49.77" lengthAdjust="spacingAndGlyphs" stroke="#000" stroke-width="0.4">Vel [m/s]</text>
<text id="k1" x="35.30" y="151.70" font-size="13.00" fill="#000" text-anchor="start" textLength="30.29" lengthAdjust="spacingAndGlyphs" stroke="#000" stroke-width="0.4">1000</text>
<text id="k2" x="72.05" y="152.35" font-size="13.00" fill="#000" text-anchor="start" textLength="26.79" lengthAdjust="spacingAndGlyphs" stroke="#000" stroke-width="0.4">m/s</text>
<text id="im1" x="609.80" y="20.40" font-size="9.30" fill="#d01818" text-anchor="start" textLength="50.24" lengthAdjust="spacingAndGlyphs" stroke="#d01818" stroke-width="0.3">+Z (5 nT)</text>
<text id="im2" x="626.80" y="66.20" font-size="9.30" fill="#d01818" text-anchor="start" textLength="12.57" lengthAdjust="spacingAndGlyphs" stroke="#d01818" stroke-width="0.3">+Y</text>
<text id="im3" x="582.40" y="110.00" font-size="9.30" fill="#d01818" text-anchor="start" textLength="43.43" lengthAdjust="spacingAndGlyphs" stroke="#d01818" stroke-width="0.3">OMNI IMF</text>
<text id="im4" x="561.30" y="124.40" font-size="9.30" fill="#d01818" text-anchor="start" textLength="79.03" lengthAdjust="spacingAndGlyphs" stroke="#d01818" stroke-width="0.3">Stat Mod: RG96</text>
<text id="im5" x="569.20" y="133.10" font-size="9.30" fill="#d01818" text-anchor="start" textLength="68.01" lengthAdjust="spacingAndGlyphs" stroke="#d01818" stroke-width="0.3">Bz&#8722;, 0&lt;BT&lt;4</text>
<text id="nt" x="11.80" y="627.90" font-size="13.60" fill="#000" text-anchor="start" transform="rotate(-90 11.80 627.90)" textLength="557.01" lengthAdjust="spacingAndGlyphs" stroke="#000" stroke-width="0.4">NOTE: FOR PREVIEW PURPOSES ONLY. PLEASE CONTACT VT-SD STAFF FOR VERIFICATION.</text>
<text id="fo" x="19.90" y="642.40" font-size="13.50" fill="#000" text-anchor="start" transform="rotate(-90 19.90 642.40)" textLength="197.81" lengthAdjust="spacingAndGlyphs" stroke="#000" stroke-width="0.4">FitOrder: 8, mapEX format</text>
<text id="mlt" x="21.60" y="102.30" font-size="12.00" fill="#000" text-anchor="start" transform="rotate(-90 21.60 102.30)" textLength="99.61" lengthAdjust="spacingAndGlyphs" stroke="#000" stroke-width="0.4">MLT coordinates</text>
<text id="l60" x="589.90" y="316.20" font-size="17.50" fill="#000" text-anchor="start" transform="rotate(-90 589.90 316.20)" textLength="26.70" lengthAdjust="spacingAndGlyphs" stroke="#000" stroke-width="0.4">60&#176;</text>
<text id="l50" x="670.45" y="316.75" font-size="17.50" fill="#000" text-anchor="start" transform="rotate(-90 670.45 316.75)" textLength="27.94" lengthAdjust="spacingAndGlyphs" stroke="#000" stroke-width="0.4">50&#176;</text>
<text id="h21" x="18.75" y="672.90" font-size="17.00" fill="#000" text-anchor="start" textLength="15.54" lengthAdjust="spacingAndGlyphs" stroke="#000" stroke-width="0.4">21</text>
<text id="h22" x="153.85" y="672.90" font-size="17.00" fill="#000" text-anchor="start" textLength="20.22" lengthAdjust="spacingAndGlyphs" stroke="#000" stroke-width="0.4">22</text>
<text id="h23" x="254.15" y="672.90" font-size="17.00" fill="#000" text-anchor="start" textLength="19.83" lengthAdjust="spacingAndGlyphs" stroke="#000" stroke-width="0.4">23</text>
<text id="h0" x="345.25" y="672.50" font-size="17.00" fill="#000" text-anchor="start" textLength="10.94" lengthAdjust="spacingAndGlyphs" stroke="#000" stroke-width="0.4">0</text>
<text id="h1" x="432.50" y="672.50" font-size="17.00" fill="#000" text-anchor="start" textLength="8.00" lengthAdjust="spacingAndGlyphs" stroke="#000" stroke-width="0.4">1</text>
<text id="h2" x="531.00" y="672.50" font-size="17.00" fill="#000" text-anchor="start" textLength="11.11" lengthAdjust="spacingAndGlyphs" stroke="#000" stroke-width="0.4">2</text>
<text id="h3" x="668.20" y="672.50" font-size="17.00" fill="#000" text-anchor="start" textLength="10.00" lengthAdjust="spacingAndGlyphs" stroke="#000" stroke-width="0.4">3</text>
<text id="sSAS" x="387.55" y="115.25" font-size="19.00" fill="#c4c4c4" text-anchor="start" textLength="36.49" lengthAdjust="spacingAndGlyphs">SAS</text>
<text id="sRKN" x="327.05" y="210.80" font-size="19.00" fill="#c4c4c4" text-anchor="start" textLength="40.63" lengthAdjust="spacingAndGlyphs">RKN</text>
<text id="sINV" x="467.85" y="250.40" font-size="19.00" fill="#c4c4c4" text-anchor="start" textLength="27.82" lengthAdjust="spacingAndGlyphs">INV</text>
<text id="sPYK" x="152.85" y="395.20" font-size="19.00" fill="#c4c4c4" text-anchor="start" textLength="37.18" lengthAdjust="spacingAndGlyphs">PYK</text>
<text id="sHAN" x="194.25" y="541.70" font-size="19.00" fill="#c4c4c4" text-anchor="start" textLength="38.11" lengthAdjust="spacingAndGlyphs">HAN</text>
<text id="sHOK" x="43.95" y="602.90" font-size="19.00" fill="#c4c4c4" text-anchor="start" textLength="40.36" lengthAdjust="spacingAndGlyphs">HOK</text>
<text id="n1" x="44.70" y="630.75" font-size="15.00" fill="#000" text-anchor="start" textLength="10.93" lengthAdjust="spacingAndGlyphs" stroke="#000" stroke-width="0.4">N</text>
<text id="n2" x="53.75" y="636.25" font-size="10.50" fill="#000" text-anchor="start" textLength="23.48" lengthAdjust="spacingAndGlyphs" font-weight="bold">rads</text>
<text id="n3" x="85.80" y="632.60" font-size="15.00" fill="#000" text-anchor="start" textLength="12.00" lengthAdjust="spacingAndGlyphs" stroke="#000" stroke-width="0.4">=</text>
<text id="n4" x="106.60" y="631.70" font-size="15.00" fill="#000" text-anchor="start" textLength="10.90" lengthAdjust="spacingAndGlyphs" stroke="#000" stroke-width="0.4">6</text>
<text id="p1" x="568.05" y="569.20" font-size="16.00" fill="#000" text-anchor="start" textLength="10.26" lengthAdjust="spacingAndGlyphs" stroke="#000" stroke-width="0.4">&#934;</text>
<text id="p2" x="578.50" y="572.25" font-size="10.50" fill="#000" text-anchor="start" textLength="12.10" lengthAdjust="spacingAndGlyphs" font-weight="bold">pc</text>
<text id="p3" x="599.20" y="568.35" font-size="15.00" fill="#000" text-anchor="start" textLength="11.76" lengthAdjust="spacingAndGlyphs" stroke="#000" stroke-width="0.4">=</text>
<text id="p4" x="619.65" y="567.75" font-size="15.00" fill="#000" text-anchor="start" textLength="19.15" lengthAdjust="spacingAndGlyphs" stroke="#000" stroke-width="0.4">52</text>
<text id="p5" x="649.20" y="568.25" font-size="15.00" fill="#000" text-anchor="start" textLength="18.52" lengthAdjust="spacingAndGlyphs" stroke="#000" stroke-width="0.4">kV</text>
<text id="a1" x="572.00" y="600.10" font-size="15.00" fill="#000" text-anchor="start" textLength="9.00" lengthAdjust="spacingAndGlyphs" stroke="#000" stroke-width="0.4">&#923;</text>
<text id="a2" x="581.00" y="603.20" font-size="9.50" fill="#000" text-anchor="start" textLength="15.99" lengthAdjust="spacingAndGlyphs" font-weight="bold">HM</text>
<text id="a3" x="606.00" y="600.30" font-size="15.00" fill="#000" text-anchor="start" textLength="10.00" lengthAdjust="spacingAndGlyphs" stroke="#000" stroke-width="0.4">=</text>
<text id="a4" x="626.30" y="600.10" font-size="15.00" fill="#000" text-anchor="start" textLength="27.58" lengthAdjust="spacingAndGlyphs" stroke="#000" stroke-width="0.4">65&#176;</text>
<text id="v1" x="568.50" y="631.25" font-size="15.00" fill="#000" text-anchor="start" textLength="10.41" lengthAdjust="spacingAndGlyphs" stroke="#000" stroke-width="0.4">N</text>
<text id="v2" x="579.00" y="635.50" font-size="10.50" fill="#000" text-anchor="start" textLength="11.00" lengthAdjust="spacingAndGlyphs" font-weight="bold">vc</text>
<text id="v3" x="599.50" y="632.40" font-size="15.00" fill="#000" text-anchor="start" textLength="12.32" lengthAdjust="spacingAndGlyphs" stroke="#000" stroke-width="0.4">=</text>
<text id="v4" x="620.75" y="631.25" font-size="15.00" fill="#000" text-anchor="start" textLength="20.16" lengthAdjust="spacingAndGlyphs" stroke="#000" stroke-width="0.4">60</text>
</g>
</svg>
</body></html>
